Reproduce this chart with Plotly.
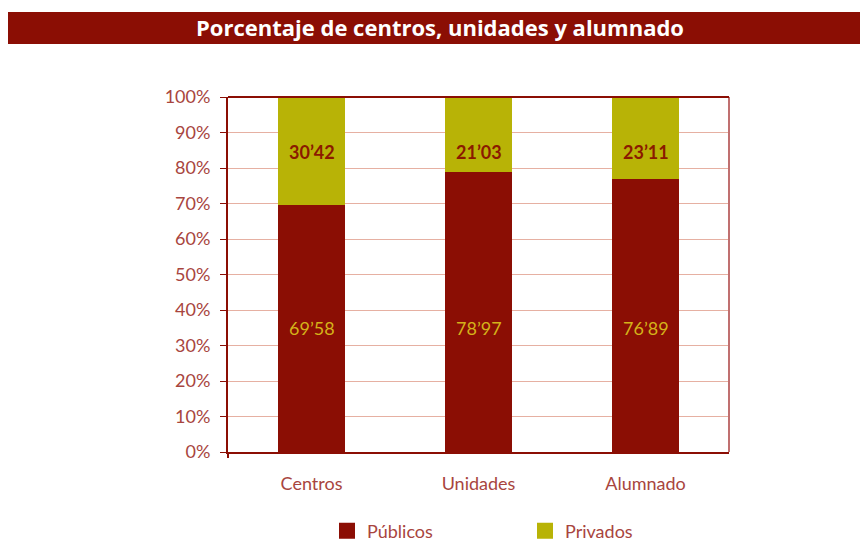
import plotly.graph_objects as go

categories = ["Centros", "Unidades", "Alumnado"]
publicos = [69.58, 78.97, 76.89]
privados = [30.42, 21.03, 23.11]
tick_vals = [0, 10, 20, 30, 40, 50, 60, 70, 80, 90, 100]
tick_text = [f"{v}%" for v in tick_vals]
series_names = ["Públicos", "Privados"]
label_y_pub = 35
label_y_priv = 84.5

RED = "#8B0E04"
OLIVE = "#B8B306"
TICK = "#A8453E"
FONT = "Lato, 'Open Sans', sans-serif"

def fmt(v):
    return f"{v:.2f}".replace(".", "’")

fig = go.Figure()
fig.add_bar(x=categories, y=publicos, name=series_names[0], marker_color=RED,
            marker_line_width=0, showlegend=False, hoverinfo="skip")
fig.add_bar(x=categories, y=privados, name=series_names[1], marker_color=OLIVE,
            marker_line_width=0, showlegend=False, hoverinfo="skip")
# legend entries
fig.add_scatter(x=[None], y=[None], mode="markers", name=series_names[0],
                marker=dict(symbol="square", size=18, color=RED))
fig.add_scatter(x=[None], y=[None], mode="markers", name=series_names[1],
                marker=dict(symbol="square", size=18, color=OLIVE))

for c, p, q in zip(categories, publicos, privados):
    fig.add_annotation(x=c, y=label_y_pub, text=fmt(p), showarrow=False,
                       font=dict(family=FONT, size=18, color="#D4B21A"))
    fig.add_annotation(x=c, y=label_y_priv, text=f"<b>{fmt(q)}</b>", showarrow=False,
                       font=dict(family=FONT, size=18, color="#8B1A00"))

W, H = 860, 542
L, R, T, B = 228, 131, 97, 90
pw, ph = W - L - R, H - T - B

def px(x):
    return (x - L) / pw

def py(y):
    return (H - B - y) / ph

# title banner
fig.add_shape(type="rect", xref="paper", yref="paper",
              x0=px(8), x1=px(862), y0=py(44), y1=py(12),
              fillcolor=RED, line_width=0, layer="below")
# right border
fig.add_shape(type="line", xref="paper", yref="paper", x0=1, x1=1, y0=0, y1=1,
              line=dict(color="#C07070", width=2))
# top border
fig.add_shape(type="line", xref="paper", yref="paper", x0=0, x1=1, y0=1, y1=1,
              line=dict(color=RED, width=2))
# y axis extension below x axis
fig.add_shape(type="line", xref="paper", yref="paper", x0=0, x1=0, y0=0, y1=py(458),
              line=dict(color=RED, width=2))

fig.update_layout(
    width=W, height=H,
    margin=dict(l=L, r=R, t=T, b=B, autoexpand=False),
    paper_bgcolor="white", plot_bgcolor="white",
    barmode="stack", bargap=0.6,
    font=dict(family=FONT, size=18, color=TICK),
    title=dict(text="<b>Porcentaje de centros, unidades y alumnado</b>",
               x=440 / W, xanchor="center", y=1 - 28 / H, yanchor="middle",
               font=dict(family="'Open Sans', sans-serif", size=22, color="white")),
    legend=dict(orientation="h", x=px(327), xanchor="left", y=py(531), yanchor="middle",
                entrywidth=153, entrywidthmode="pixels", traceorder="normal",
                font=dict(family=FONT, size=18, color=TICK), itemclick=False,
                tracegroupgap=0),
    xaxis=dict(showline=True, linecolor=RED, linewidth=2, ticks="", showgrid=False,
               tickfont=dict(family=FONT, size=18, color=TICK), ticklabelstandoff=14),
    yaxis=dict(range=[0, 100], tickvals=tick_vals, ticktext=tick_text,
               showline=True, linecolor=RED, linewidth=2, ticks="outside",
               ticklen=6, tickcolor=RED, showgrid=True, gridcolor="#E6B0A2",
               gridwidth=1, zeroline=False, ticklabelstandoff=6,
               tickfont=dict(family=FONT, size=18, color=TICK)),
)

fig.write_html("out.html", config={"displayModeBar": False},
               post_script="document.body.style.margin='0';document.body.style.overflow='hidden';")
